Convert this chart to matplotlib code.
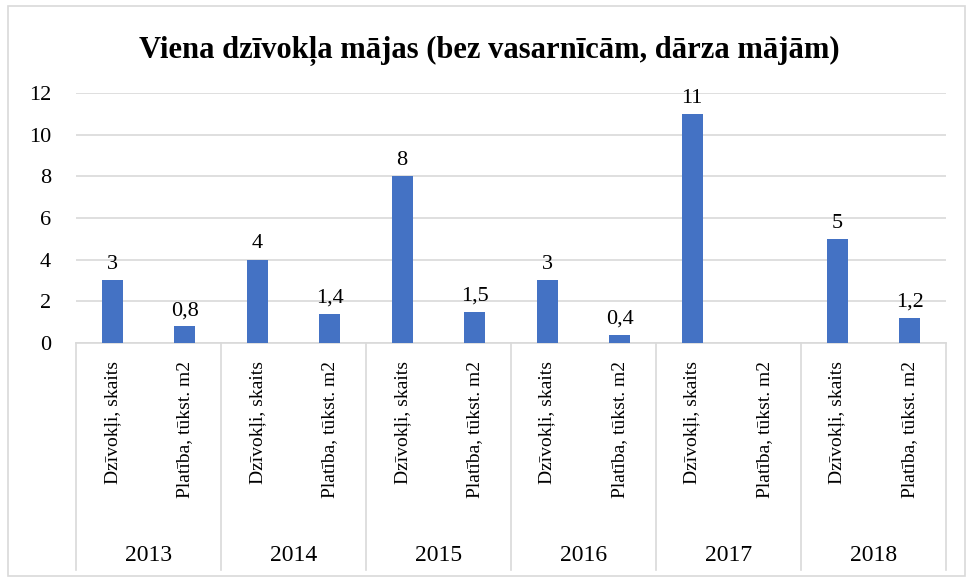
import numpy as np
import matplotlib.pyplot as plt
from matplotlib.patches import Rectangle

years = ["2013", "2014", "2015", "2016", "2017", "2018"]
categories = ["Dzīvokļi, skaits", "Platība, tūkst. m2"]
dzivokli = [3, 4, 8, 3, 11, 5]
platiba = [0.8, 1.4, 1.5, 0.4, np.nan, 1.2]

# vērtības secībā: gads -> kategorija
values = []
labels = []
for d, p in zip(dzivokli, platiba):
    values += [d, p]
    labels += categories

plt.rcParams['font.family'] = ['Liberation Serif', 'DejaVu Serif']

fig = plt.figure(figsize=(9.73, 5.82), dpi=100)
ax = fig.add_axes([0.078, 0.4107, 0.894, 0.4296])

x = np.arange(len(values))
bars = ax.bar(x, values, width=0.29, color="#4472C4", zorder=3)

for xi, v in zip(x, values):
    if np.isnan(v):
        continue
    txt = f"{v:g}".replace(".", ",")
    ax.text(xi, v + 0.3, txt, ha="center", va="bottom", fontsize=16)

ax.set_xlim(-0.5, len(values) - 0.5)
ax.set_ylim(0, 12)
ax.set_yticks(range(0, 13, 2))
ax.tick_params(axis="y", length=0, pad=18, labelsize=16)
ax.grid(axis="y", color="#d9d9d9", linewidth=1.2, zorder=0)

ax.set_xticks(x)
ax.set_xticklabels(labels, rotation=90, fontsize=14)
ax.tick_params(axis="x", length=0, pad=13)

for s in ["top", "right", "left"]:
    ax.spines[s].set_visible(False)
ax.spines["bottom"].set_color("#d9d9d9")
ax.spines["bottom"].set_linewidth(1.2)

# grupu atdalītāji un gadi
n = len(categories)
for i in range(len(years) + 1):
    xs = i * n - 0.5
    ax.plot([xs, xs], [0, -0.908], color="#d9d9d9", lw=1.2,
            transform=ax.get_xaxis_transform(), clip_on=False)
for i, yr in enumerate(years):
    ax.text(i * n + (n - 1) / 2, -0.85, yr, ha="center", va="center",
            fontsize=17, transform=ax.get_xaxis_transform())

fig.text(0.503, 0.913, "Viena dzīvokļa mājas (bez vasarnīcām, dārza mājām)",
         ha="center", va="center", fontsize=22, fontweight="bold")

fig.patches.append(Rectangle((0.008, 0.01), 0.984, 0.98, transform=fig.transFigure,
                             fill=False, edgecolor="#d9d9d9", lw=1.2))

fig.savefig("out.png", dpi=100)
